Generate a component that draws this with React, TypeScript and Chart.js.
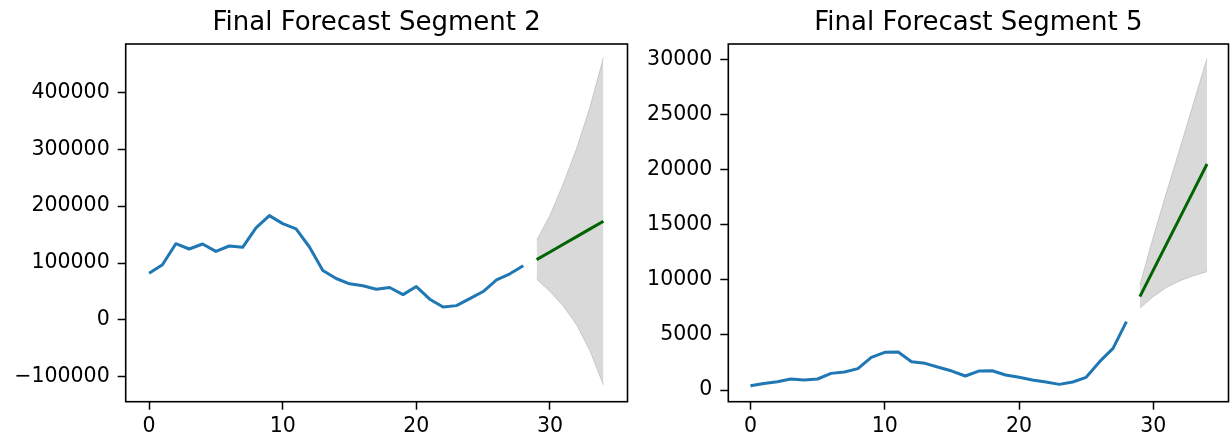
import React, { useEffect, useRef } from "react";
import { Chart, registerables } from "chart.js";

Chart.register(...registerables);

// ---------- data ----------
const histX = [0, 1, 2, 3, 4, 5, 6, 7, 8, 9, 10, 11, 12, 13, 14, 15, 16, 17, 18, 19, 20, 21, 22, 23, 24, 25, 26, 27, 28];
const fcX = [29, 30, 31, 32, 33, 34];
const xTickValues = [0, 10, 20, 30];

const seg2Title = "Final Forecast Segment 2";
const seg2Hist = [82000, 97000, 134000, 124700, 133500, 120500, 130000, 127600, 161700, 183400, 169300, 160000, 128200, 87000, 72900, 63500, 60000, 54100, 57000, 44600, 58700, 36500, 22900, 25200, 37600, 50000, 70500, 81100, 95200];
const seg2Forecast = [106000, 119500, 133000, 146500, 160000, 173500];
const seg2Upper = [139900, 184000, 240000, 302000, 375000, 461500];
const seg2Lower = [71700, 50000, 24000, -9000, -55000, -114700];
const seg2YTicks = [-100000, 0, 100000, 200000, 300000, 400000];

const seg5Title = "Final Forecast Segment 5";
const seg5Hist = [390, 600, 750, 1000, 900, 1000, 1510, 1630, 1940, 2960, 3420, 3450, 2570, 2420, 2060, 1720, 1270, 1720, 1750, 1360, 1150, 910, 730, 510, 730, 1150, 2570, 3780, 6200];
const seg5Forecast = [8470, 10880, 13280, 15690, 18090, 20500];
const seg5Upper = [9530, 13900, 18000, 22000, 26050, 30100];
const seg5Lower = [7410, 8470, 9320, 9920, 10370, 10730];
const seg5YTicks = [0, 5000, 10000, 15000, 20000, 25000, 30000];

// ---------- helpers ----------
const FONT = "'DejaVu Sans', 'Liberation Sans', sans-serif";

const pts = (xs: number[], ys: number[]) => xs.map((x, i) => ({ x, y: ys[i] }));

const fmt = (v: number) => (v < 0 ? "\u2212" + String(Math.abs(v)) : String(v));

const framePlugin = {
  id: "frame",
  afterDatasetsDraw(chart: any) {
    const { ctx, chartArea: a } = chart;
    ctx.save();
    ctx.strokeStyle = "#000";
    ctx.lineWidth = 1.6;
    ctx.strokeRect(a.left, a.top, a.right - a.left, a.bottom - a.top);
    ctx.restore();
  },
};

type Spec = {
  title: string;
  hist: number[];
  forecast: number[];
  upper: number[];
  lower: number[];
  yTicks: number[];
  yMin: number;
  yMax: number;
  xMin: number;
  xMax: number;
  yAxisWidth: number;
  padRight: number;
};

function makeConfig(s: Spec): any {
  const tickFont = { family: FONT, size: 20.5 };
  return {
    type: "line",
    data: {
      datasets: [
        {
          label: "forecast",
          data: pts(fcX, s.forecast),
          borderColor: "#006400",
          borderWidth: 3,
          pointRadius: 0,
          fill: false,
          tension: 0,
        },
        {
          label: "history",
          data: pts(histX, s.hist),
          borderColor: "#1f77b4",
          borderWidth: 3,
          pointRadius: 0,
          fill: false,
          tension: 0,
          borderJoinStyle: "round",
        },
        {
          label: "upper",
          data: pts(fcX, s.upper),
          borderColor: "rgba(0,0,0,0.15)",
          backgroundColor: "rgba(0,0,0,0.15)",
          borderWidth: 1,
          pointRadius: 0,
          fill: "+1",
          tension: 0,
        },
        {
          label: "lower",
          data: pts(fcX, s.lower),
          borderColor: "rgba(0,0,0,0.15)",
          borderWidth: 1,
          pointRadius: 0,
          fill: false,
          tension: 0,
        },
      ],
    },
    options: {
      animation: false,
      responsive: false,
      events: [],
      layout: { padding: { left: 0, right: s.padRight, top: 0, bottom: 0 } },
      plugins: {
        legend: { display: false },
        tooltip: { enabled: false },
        title: {
          display: true,
          text: s.title,
          fullSize: false,
          color: "#000",
          font: { family: FONT, size: 26, weight: "normal", lineHeight: 1.2 },
          padding: { top: 7.9, bottom: 4.9 },
        },
      },
      scales: {
        x: {
          type: "linear",
          min: s.xMin,
          max: s.xMax,
          afterBuildTicks: (scale: any) => {
            scale.ticks = xTickValues.map((v) => ({ value: v }));
          },
          afterFit: (scale: any) => {
            scale.height = 35.3;
          },
          ticks: {
            color: "#000",
            font: tickFont,
            padding: 5,
            maxRotation: 0,
            autoSkip: false,
            callback: (v: number) => fmt(v),
          },
          grid: {
            display: true,
            drawOnChartArea: false,
            drawTicks: true,
            tickLength: 8,
            tickColor: "#000",
            tickWidth: 1.5,
          },
          border: { display: false },
        },
        y: {
          type: "linear",
          min: s.yMin,
          max: s.yMax,
          afterBuildTicks: (scale: any) => {
            scale.ticks = s.yTicks.map((v) => ({ value: v }));
          },
          afterFit: (scale: any) => {
            scale.width = s.yAxisWidth;
          },
          ticks: {
            color: "#000",
            font: tickFont,
            padding: 8,
            autoSkip: false,
            callback: (v: number) => fmt(v),
          },
          grid: {
            display: true,
            drawOnChartArea: false,
            drawTicks: true,
            tickLength: 8,
            tickColor: "#000",
            tickWidth: 1.5,
          },
          border: { display: false },
        },
      },
    },
    plugins: [framePlugin],
  };
}

function ChartCanvas({ spec, left, width }: { spec: Spec; left: number; width: number }) {
  const ref = useRef<HTMLCanvasElement | null>(null);
  useEffect(() => {
    if (!ref.current) return;
    const chart = new Chart(ref.current, makeConfig(spec));
    return () => chart.destroy();
  }, [spec]);
  return (
    <canvas
      ref={ref}
      width={width}
      height={437}
      style={{ position: "absolute", left, top: 0, width, height: 437 }}
    />
  );
}

const spec2: Spec = {
  title: seg2Title,
  hist: seg2Hist,
  forecast: seg2Forecast,
  upper: seg2Upper,
  lower: seg2Lower,
  yTicks: seg2YTicks,
  yMin: -143600,
  yMax: 484900,
  xMin: -1.75,
  xMax: 35.8,
  yAxisWidth: 125.7,
  padRight: 8.5,
};

const spec5: Spec = {
  title: seg5Title,
  hist: seg5Hist,
  forecast: seg5Forecast,
  upper: seg5Upper,
  lower: seg5Lower,
  yTicks: seg5YTicks,
  yMin: -1060,
  yMax: 31390,
  xMin: -1.65,
  xMax: 35.6,
  yAxisWidth: 92.3,
  padRight: 2.5,
};

export default function App() {
  return (
    <div style={{ position: "absolute", left: 0, top: 0, width: 1231, height: 437, background: "#fff" }}>
      <ChartCanvas spec={spec2} left={0} width={636} />
      <ChartCanvas spec={spec5} left={636} width={595} />
    </div>
  );
}
